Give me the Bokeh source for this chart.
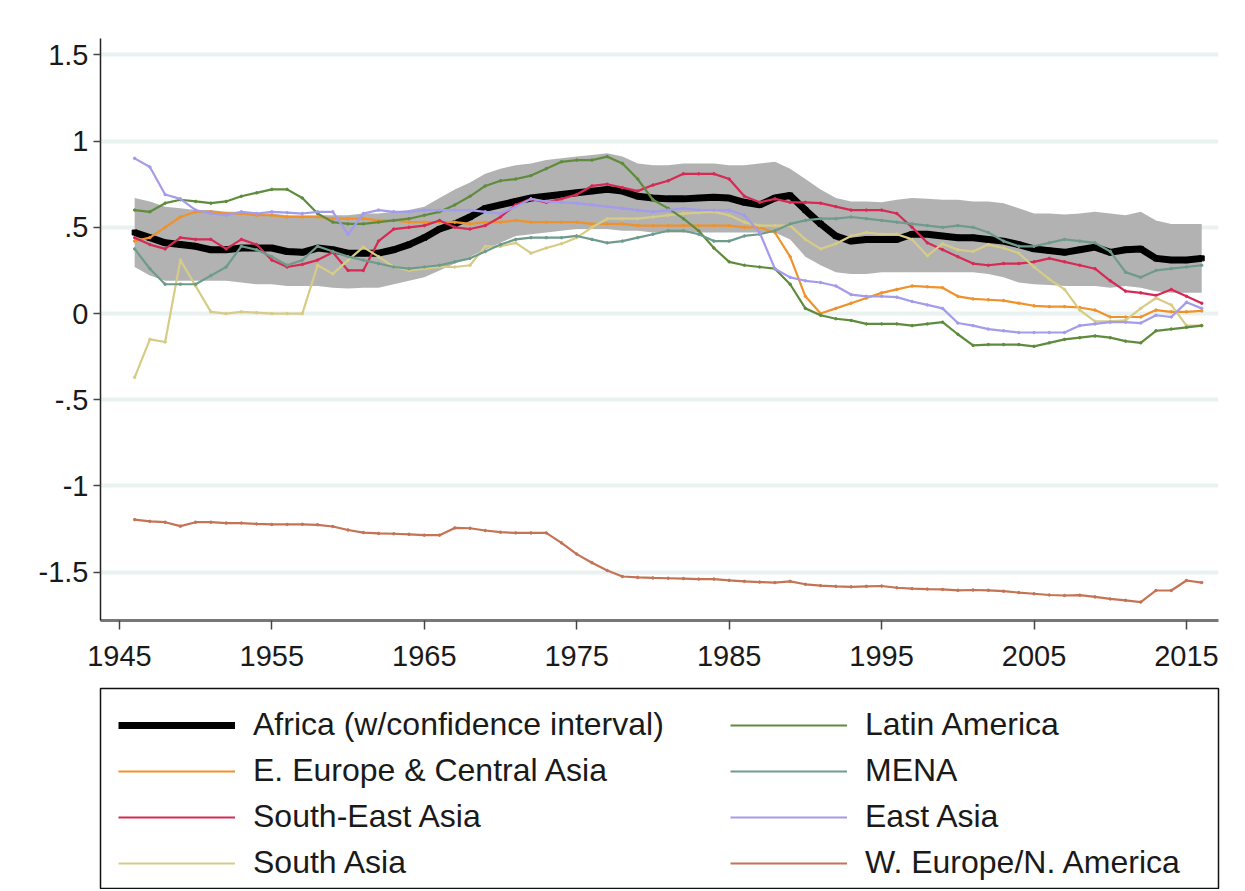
from bokeh.plotting import figure
from bokeh.models import Range1d, FixedTicker, Legend, LegendItem
from bokeh.layouts import column
from bokeh.embed import file_html
from bokeh.resources import INLINE

years = list(range(1946, 2017))

africa = [0.47, 0.44, 0.41, 0.40, 0.39, 0.37, 0.37, 0.38, 0.38, 0.38,
          0.36, 0.355, 0.38, 0.37, 0.35, 0.35, 0.35, 0.37, 0.40, 0.44,
          0.49, 0.52, 0.56, 0.61, 0.63, 0.65, 0.67, 0.68, 0.69, 0.70,
          0.71, 0.72, 0.71, 0.68, 0.67, 0.665, 0.665, 0.67, 0.675, 0.67,
          0.645, 0.63, 0.67, 0.685, 0.60, 0.52, 0.45, 0.42, 0.43, 0.43,
          0.43, 0.46, 0.46, 0.45, 0.44, 0.44, 0.43, 0.42, 0.40, 0.375,
          0.365, 0.355, 0.37, 0.385, 0.355, 0.37, 0.375, 0.32, 0.31, 0.31,
          0.32]
africa_hi = [0.67, 0.65, 0.62, 0.61, 0.60, 0.60, 0.59, 0.59, 0.58, 0.58,
             0.57, 0.57, 0.57, 0.57, 0.57, 0.58, 0.58, 0.59, 0.60, 0.62,
             0.67, 0.72, 0.76, 0.81, 0.84, 0.86, 0.87, 0.89, 0.90, 0.91,
             0.92, 0.93, 0.91, 0.87, 0.86, 0.86, 0.87, 0.87, 0.87, 0.86,
             0.86, 0.87, 0.88, 0.84, 0.78, 0.72, 0.67, 0.65, 0.65, 0.645,
             0.66, 0.67, 0.665, 0.66, 0.66, 0.65, 0.65, 0.64, 0.61, 0.58,
             0.58, 0.575, 0.58, 0.59, 0.58, 0.57, 0.59, 0.54, 0.52, 0.52,
             0.52]
africa_lo = [0.27, 0.22, 0.19, 0.19, 0.19, 0.19, 0.19, 0.18, 0.17, 0.17,
             0.16, 0.16, 0.16, 0.15, 0.145, 0.15, 0.15, 0.17, 0.19, 0.21,
             0.25, 0.29, 0.33, 0.37, 0.41, 0.45, 0.46, 0.47, 0.48, 0.49,
             0.49, 0.49, 0.48, 0.48, 0.47, 0.47, 0.47, 0.47, 0.47, 0.47,
             0.47, 0.47, 0.47, 0.43, 0.33, 0.28, 0.24, 0.23, 0.23, 0.24,
             0.24, 0.24, 0.24, 0.24, 0.24, 0.24, 0.23, 0.21, 0.18, 0.17,
             0.165, 0.16, 0.16, 0.16, 0.15, 0.16, 0.15, 0.13, 0.12, 0.12,
             0.12]
e_europe = [0.42, 0.44, 0.50, 0.56, 0.59, 0.59, 0.58, 0.58, 0.57, 0.57,
            0.56, 0.56, 0.56, 0.55, 0.55, 0.55, 0.54, 0.54, 0.53, 0.53,
            0.53, 0.53, 0.52, 0.53, 0.53, 0.54, 0.53, 0.53, 0.53, 0.53,
            0.52, 0.52, 0.52, 0.51, 0.51, 0.51, 0.51, 0.51, 0.51, 0.51,
            0.50, 0.50, 0.47, 0.33, 0.10, 0.00, 0.03, 0.06, 0.09, 0.12,
            0.14, 0.16, 0.155, 0.15, 0.10, 0.085, 0.08, 0.075, 0.06, 0.045,
            0.04, 0.04, 0.035, 0.02, -0.02, -0.02, -0.02, 0.02, 0.01, 0.01,
            0.015]
latin_america = [0.60, 0.59, 0.64, 0.66, 0.65, 0.64, 0.65, 0.68, 0.70, 0.72,
                 0.72, 0.67, 0.58, 0.53, 0.52, 0.52, 0.53, 0.54, 0.55, 0.57,
                 0.59, 0.63, 0.68, 0.74, 0.77, 0.78, 0.80, 0.84, 0.88, 0.89,
                 0.89, 0.91, 0.87, 0.78, 0.66, 0.61, 0.55, 0.48, 0.38, 0.30,
                 0.28, 0.27, 0.26, 0.17, 0.03, -0.01, -0.03, -0.04, -0.06, -0.06,
                 -0.06, -0.07, -0.06, -0.05, -0.12, -0.185, -0.18, -0.18, -0.18, -0.19,
                 -0.17, -0.15, -0.14, -0.13, -0.14, -0.16, -0.17, -0.10, -0.09, -0.08,
                 -0.07]
mena = [0.375, 0.26, 0.17, 0.17, 0.17, 0.22, 0.27, 0.39, 0.37, 0.33,
        0.28, 0.31, 0.39, 0.36, 0.33, 0.31, 0.29, 0.27, 0.26, 0.27,
        0.28, 0.30, 0.32, 0.36, 0.40, 0.43, 0.44, 0.44, 0.44, 0.45,
        0.43, 0.41, 0.42, 0.44, 0.46, 0.48, 0.48, 0.46, 0.42, 0.42,
        0.45, 0.46, 0.48, 0.52, 0.54, 0.55, 0.55, 0.56, 0.55, 0.54,
        0.53, 0.52, 0.51, 0.50, 0.51, 0.50, 0.47, 0.42, 0.39, 0.39,
        0.41, 0.43, 0.42, 0.41, 0.36, 0.24, 0.21, 0.25, 0.26, 0.27,
        0.28]
se_asia = [0.44, 0.40, 0.375, 0.44, 0.43, 0.43, 0.375, 0.43, 0.40, 0.31,
           0.27, 0.285, 0.31, 0.355, 0.25, 0.25, 0.42, 0.49, 0.50, 0.51,
           0.54, 0.50, 0.49, 0.51, 0.56, 0.63, 0.665, 0.645, 0.665, 0.69,
           0.74, 0.75, 0.73, 0.71, 0.745, 0.77, 0.81, 0.81, 0.81, 0.78,
           0.68, 0.645, 0.665, 0.645, 0.645, 0.64, 0.62, 0.60, 0.60, 0.60,
           0.58, 0.50, 0.41, 0.37, 0.33, 0.29, 0.28, 0.29, 0.29, 0.30,
           0.32, 0.30, 0.28, 0.26, 0.19, 0.13, 0.12, 0.105, 0.14, 0.10,
           0.06]
east_asia = [0.90, 0.85, 0.69, 0.665, 0.60, 0.58, 0.57, 0.59, 0.58, 0.59,
             0.585, 0.58, 0.59, 0.59, 0.46, 0.58, 0.60, 0.59, 0.59, 0.60,
             0.60, 0.60, 0.60, 0.59, 0.58, 0.62, 0.665, 0.65, 0.645, 0.64,
             0.63, 0.62, 0.61, 0.60, 0.59, 0.60, 0.61, 0.60, 0.60, 0.60,
             0.57, 0.47, 0.26, 0.21, 0.19, 0.18, 0.16, 0.11, 0.10, 0.10,
             0.095, 0.07, 0.05, 0.03, -0.055, -0.07, -0.09, -0.10, -0.11, -0.11,
             -0.11, -0.11, -0.07, -0.06, -0.05, -0.05, -0.055, -0.01, -0.02, 0.065,
             0.03]
south_asia = [-0.37, -0.15, -0.165, 0.31, 0.16, 0.01, 0.00, 0.01, 0.005, 0.00,
              0.00, 0.00, 0.28, 0.23, 0.31, 0.385, 0.33, 0.27, 0.25, 0.26,
              0.27, 0.27, 0.28, 0.39, 0.39, 0.41, 0.35, 0.38, 0.405, 0.44,
              0.50, 0.55, 0.55, 0.55, 0.56, 0.57, 0.58, 0.585, 0.59, 0.57,
              0.53, 0.51, 0.51, 0.51, 0.43, 0.375, 0.405, 0.45, 0.47, 0.46,
              0.46, 0.43, 0.335, 0.405, 0.37, 0.36, 0.40, 0.38, 0.35, 0.27,
              0.20, 0.14, 0.02, -0.045, -0.045, -0.04, 0.03, 0.09, 0.05, -0.07,
              -0.07]
w_europe = [-1.195, -1.205, -1.21, -1.233, -1.21, -1.21, -1.215, -1.215, -1.22, -1.223,
            -1.223, -1.222, -1.225, -1.235, -1.255, -1.27, -1.275, -1.277, -1.28, -1.285,
            -1.285, -1.243, -1.245, -1.258, -1.268, -1.272, -1.272, -1.272, -1.33, -1.395,
            -1.445, -1.49, -1.525, -1.53, -1.533, -1.535, -1.537, -1.54, -1.54, -1.547,
            -1.553, -1.557, -1.56, -1.553, -1.57, -1.578, -1.582, -1.585, -1.582, -1.58,
            -1.59, -1.595, -1.598, -1.6, -1.605, -1.603, -1.605, -1.61, -1.618, -1.625,
            -1.632, -1.635, -1.633, -1.643, -1.655, -1.663, -1.673, -1.606, -1.606, -1.548,
            -1.56]

y_ticks = [-1.5, -1, -0.5, 0, 0.5, 1, 1.5]
y_tick_labels = ["-1.5", "-1", "-.5", "0", ".5", "1", "1.5"]
x_ticks = [1945, 1955, 1965, 1975, 1985, 1995, 2005, 2015]

FONT = "Liberation Sans"
W = 1245

# ---------------- main chart ----------------
p = figure(width=W, height=682, output_backend="svg", toolbar_location=None,
           x_range=Range1d(1943.76, 2017.1), y_range=Range1d(-1.78, 1.595),
           min_border_left=93, min_border_right=27, min_border_top=38, min_border_bottom=62)
p.outline_line_color = None
p.background_fill_color = "white"
p.border_fill_color = "white"

p.xgrid.visible = False
p.ygrid.ticker = FixedTicker(ticks=y_ticks)
p.ygrid.grid_line_color = "#e9f1f1"
p.ygrid.grid_line_width = 4

p.yaxis.ticker = FixedTicker(ticks=y_ticks)
p.yaxis.major_label_overrides = {t: l for t, l in zip(y_ticks, y_tick_labels)}
p.xaxis.ticker = FixedTicker(ticks=x_ticks)
for ax in (p.xaxis, p.yaxis):
    ax.minor_tick_line_color = None
    ax.major_tick_in = 0
    ax.major_tick_line_color = "#444444"
    ax.major_tick_line_width = 1.5
    ax.major_label_text_font = FONT
    ax.major_label_text_font_size = "29px"
    ax.major_label_text_color = "#1a1a1a"
p.xaxis.major_tick_out = 9
p.yaxis.major_tick_out = 7
p.xaxis.major_label_standoff = 16
p.yaxis.major_label_standoff = 5
p.yaxis.axis_line_color = "#222222"
p.yaxis.axis_line_width = 1.5
p.xaxis.axis_line_color = "#777777"
p.xaxis.axis_line_width = 3

p.varea(x=years, y1=africa_lo, y2=africa_hi, fill_color="#b2b2b2", fill_alpha=1.0)
p.line(years, africa, line_color="black", line_width=7)
p.scatter(years, africa, marker="square", size=5, color="black")

series = [
    (e_europe, "#f0922b", "E. Europe & Central Asia"),
    (se_asia, "#d62a55", "South-East Asia"),
    (south_asia, "#d6cc86", "South Asia"),
    (latin_america, "#5f8c3c", "Latin America"),
    (mena, "#6e9b8c", "MENA"),
    (east_asia, "#a39bec", "East Asia"),
    (w_europe, "#c47355", "W. Europe/N. America"),
]
for vals, col, name in series:
    p.line(years, vals, line_color=col, line_width=2.2)
    p.scatter(years, vals, marker="circle", size=2.5, color=col)

# ---------------- legend panel ----------------
LG_H = 207
lg = figure(width=W, height=LG_H, output_backend="svg", toolbar_location=None,
            x_range=Range1d(0, 1), y_range=Range1d(0, 1),
            x_axis_type=None, y_axis_type=None,
            min_border_left=100, min_border_right=27, min_border_top=6, min_border_bottom=1)
lg.xgrid.visible = False
lg.ygrid.visible = False
lg.outline_line_color = "#111111"
lg.outline_line_width = 1.5
lg.background_fill_color = "white"
lg.border_fill_color = "white"

entries = [("Africa (w/confidence interval)", "black", 7)] + \
          [(name, col, 2.2) for _, col, name in series]
dummy = {}
for name, col, w in entries:
    dummy[name] = lg.line([0, 1], [5, 5], line_color=col, line_width=w)

col1 = ["Africa (w/confidence interval)", "E. Europe & Central Asia", "South-East Asia", "South Asia"]
col2 = ["Latin America", "MENA", "East Asia", "W. Europe/N. America"]

frame_h = LG_H - 6 - 1
leg_h = 4 * 36 + 3 * 9
for names, vx in ((col1, 18), (col2, 630)):
    leg = Legend(items=[LegendItem(label=n, renderers=[dummy[n]]) for n in names],
                 orientation="vertical", location=(vx, frame_h - 22 - leg_h),
                 margin=0, padding=0, spacing=9,
                 label_text_font=FONT, label_text_font_size="32px",
                 label_text_color="#1a1a1a",
                 glyph_width=117, glyph_height=36, label_height=36,
                 label_standoff=18,
                 border_line_color=None, background_fill_alpha=0.0)
    lg.add_layout(leg, "center")

layout = column(p, lg, spacing=0)
open("out.html", "w").write(file_html(layout, INLINE))
